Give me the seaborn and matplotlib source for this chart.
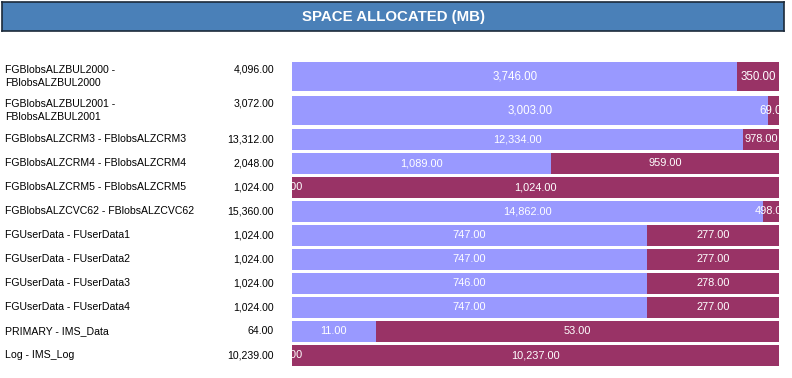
import seaborn as sns
import matplotlib.pyplot as plt
import pandas as pd
import numpy as np

# data
names = ['FGBlobsALZBUL2000 -\nFBlobsALZBUL2000', 'FGBlobsALZBUL2001 -\nFBlobsALZBUL2001',
         'FGBlobsALZCRM3 - FBlobsALZCRM3', 'FGBlobsALZCRM4 - FBlobsALZCRM4',
         'FGBlobsALZCRM5 - FBlobsALZCRM5', 'FGBlobsALZCVC62 - FBlobsALZCVC62',
         'FGUserData - FUserData1', 'FGUserData - FUserData2', 'FGUserData - FUserData3',
         'FGUserData - FUserData4', 'PRIMARY - IMS_Data', 'Log - IMS_Log']
used = [3746, 3003, 12334, 1089, 0, 14862, 747, 747, 746, 747, 11, 2]
free = [350, 69, 978, 959, 1024, 498, 277, 277, 278, 277, 53, 10237]

df = pd.DataFrame({'name': names, 'used': used, 'free': free})
df['total'] = df['used'] + df['free']

USED_COL = '#9999FF'
FREE_COL = '#993366'
W, H = 792, 378

sns.set_theme(style='white')
plt.rcParams['font.family'] = ['Liberation Sans', 'DejaVu Sans']

fig = plt.figure(figsize=(W / 100, H / 100), dpi=100)
fig.patch.set_facecolor('white')

# title banner
tax = fig.add_axes([2 / W, 1 - 31 / H, 782 / W, 29 / H])
tax.set_facecolor('#4A80B8')
tax.set_xticks([])
tax.set_yticks([])
for s in tax.spines.values():
    s.set_color('#1c2a3a')
    s.set_linewidth(1.2)
tax.text(0.5, 0.5, 'SPACE ALLOCATED (MB)', color='white', fontsize=10.8, fontweight='bold',
         ha='center', va='center', transform=tax.transAxes)

# row slots (px): two-line rows are taller
slot_h = [34 if '\n' in n else 24 for n in names]
top = 59.5
bx0, bx1 = 292, 779

for i, row in df.iterrows():
    h = slot_h[i]
    y_top = top
    top += h
    ax = fig.add_axes([bx0 / W, 1 - (y_top + h) / H, (bx1 - bx0) / W, h / H])
    sns.barplot(x=[row['total']], y=[0], orient='h', color=FREE_COL, saturation=1,
                width=0.875, linewidth=0, ax=ax)
    sns.barplot(x=[row['used']], y=[0], orient='h', color=USED_COL, saturation=1,
                width=0.875, linewidth=0, ax=ax)
    ax.set_xlim(0, row['total'])
    ax.axis('off')

    big = '\n' in row['name']
    fs = 8.3 if big else 7.9
    ax.text(row['used'] / 2, 0, f"{row['used']:,.2f}", color='white', fontsize=fs,
            ha='center', va='center', clip_on=True)
    ax.text(row['used'] + row['free'] / 2, 0, f"{row['free']:,.2f}", color='white', fontsize=fs,
            ha='center', va='center', clip_on=True)

    # left side labels
    yc = 1 - (y_top + h / 2) / H
    fig.text(5 / W, yc, row['name'], fontsize=7.6, ha='left', va='center', color='black',
             linespacing=1.4)
    ty = 1 - (y_top + 10.5) / H if big else yc
    fig.text(274 / W, ty, f"{row['total']:,.2f}", fontsize=7.6, ha='right', va='center',
             color='black')

fig.savefig('out.png', dpi=100, facecolor='white')
